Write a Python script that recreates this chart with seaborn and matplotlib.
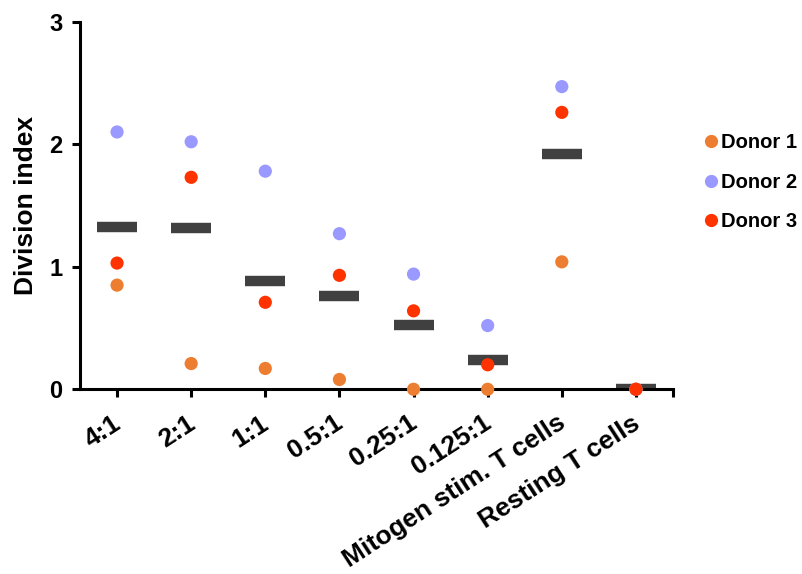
import numpy as np
import pandas as pd
import seaborn as sns
import matplotlib.pyplot as plt
from matplotlib.transforms import ScaledTranslation

# Division index per condition for each donor
conditions = ["4:1", "2:1", "1:1", "0.5:1", "0.25:1", "0.125:1",
              "Mitogen stim. T cells", "Resting T cells"]
donor1 = [0.85, 0.21, 0.17, 0.08, 0.00, 0.00, 1.04, 0.00]
donor2 = [2.10, 2.02, 1.78, 1.27, 0.94, 0.52, 2.47, 0.00]
donor3 = [1.03, 1.73, 0.71, 0.93, 0.64, 0.20, 2.26, 0.00]
donors = ["Donor 1", "Donor 2", "Donor 3"]
donor_colors = ["#ED7D31", "#9999FF", "#FF3300"]
y_ticks = [0, 1, 2, 3]

sns.set_theme(style="ticks")
plt.rcParams["font.family"] = ["Liberation Sans", "DejaVu Sans"]
plt.rcParams["font.weight"] = "bold"
plt.rcParams["axes.labelweight"] = "bold"
plt.rcParams["text.color"] = "black"
plt.rcParams["axes.labelcolor"] = "black"
plt.rcParams["xtick.color"] = "black"
plt.rcParams["ytick.color"] = "black"

df = pd.DataFrame({
    "condition": conditions * 3,
    "donor": np.repeat(donors, len(conditions)),
    "value": donor1 + donor2 + donor3,
})

fig = plt.figure(figsize=(8.03, 5.74), dpi=100)
ax = fig.add_axes([0.0996, 0.3218, 0.7385, 0.6404])

# mean bar per condition
sns.pointplot(data=df, x="condition", y="value", order=conditions,
              estimator="mean", errorbar=None, color="#404040",
              markers="_", linestyles="none", markersize=29,
              markeredgewidth=7.5, ax=ax, zorder=2)

# individual donor values
sns.stripplot(data=df, x="condition", y="value", order=conditions,
              hue="donor", hue_order=donors, palette=donor_colors,
              jitter=False, size=9.5, linewidth=0, ax=ax, zorder=3)
for coll in ax.collections:
    coll.set_clip_on(False)

ax.set_xlim(-0.5, 7.5)
ax.set_ylim(0, 3)
ax.set_yticks(y_ticks)
ax.set_xticks([7.5], minor=True)
ax.set_xlabel("")
ax.set_ylabel("Division index", fontsize=19, fontweight="bold", labelpad=8)

for side in ["top", "right"]:
    ax.spines[side].set_visible(False)
for side in ["left", "bottom"]:
    ax.spines[side].set_linewidth(2.2)
    ax.spines[side].set_color("black")

ax.tick_params(axis="both", which="both", width=2.2, length=5.5, color="black")
ax.tick_params(axis="y", labelsize=17, pad=7)
ax.tick_params(axis="x", labelsize=19, pad=5)
label_shift = ScaledTranslation(-0.05, -0.07, fig.dpi_scale_trans)
for lbl in ax.get_xticklabels():
    lbl.set_rotation(33)
    lbl.set_ha("right")
    lbl.set_rotation_mode("anchor")
    lbl.set_fontweight("bold")
    lbl.set_transform(lbl.get_transform() + label_shift)
plt.setp(ax.get_yticklabels(), fontweight="bold")

handles, labels = ax.get_legend_handles_labels()
if ax.get_legend() is not None:
    ax.get_legend().remove()
fig.legend(handles[-3:], labels[-3:], loc="upper left",
           bbox_to_anchor=(0.855, 0.799), frameon=False,
           handlelength=0.6, handletextpad=0.2, labelspacing=1.0,
           prop={"size": 14.5, "weight": "bold"})

fig.savefig("out.png", dpi=100)
